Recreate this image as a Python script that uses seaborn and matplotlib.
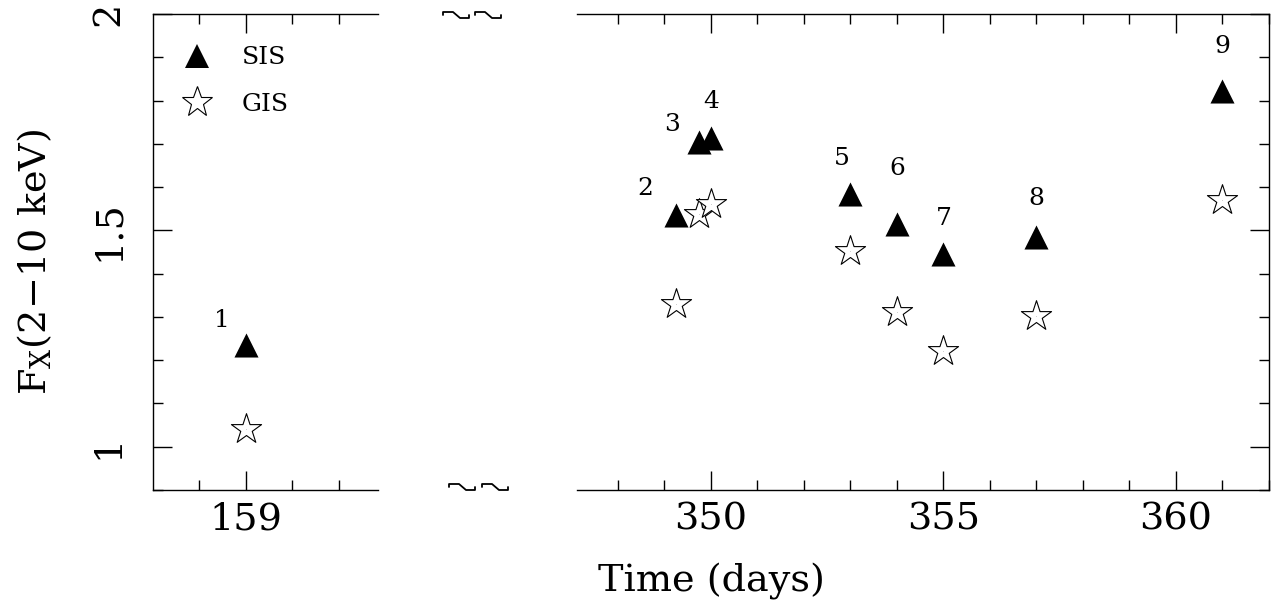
import matplotlib
matplotlib.use("Agg")
import matplotlib.pyplot as plt
import pandas as pd
import seaborn as sns
from matplotlib.lines import Line2D

# ---------------------------------------------------------------------------
# Data (flux in 2-10 keV band, two instruments)
# ---------------------------------------------------------------------------
obs_id = ["1", "2", "3", "4", "5", "6", "7", "8", "9"]
obs_time = [159.0, 349.25, 349.74, 350.0, 353.0, 354.0, 355.0, 357.0, 361.0]
sis_flux = [1.235, 1.535, 1.705, 1.714, 1.585, 1.514, 1.445, 1.484, 1.823]
gis_flux = [1.041, 1.329, 1.537, 1.560, 1.452, 1.311, 1.221, 1.302, 1.571]

# label offsets (points) of the observation numbers relative to the SIS marker
label_dx = [-17, -22, -19, 0, -6, 0, 0, 0, 0]
label_dy = [18, 19, 12, 26, 25, 40, 26, 28, 32]

df = pd.DataFrame({
    "obs": obs_id, "time": obs_time, "sis": sis_flux, "gis": gis_flux,
    "dx": label_dx, "dy": label_dy,
})

FONT = "DejaVu Serif"
BIG = 27.5
SMALL = 18

sns.set_style("ticks")
plt.rcParams["font.family"] = [FONT, "DejaVu Sans"]
plt.rcParams["mathtext.fontset"] = "custom"
plt.rcParams["mathtext.rm"] = FONT
plt.rcParams["mathtext.it"] = FONT
plt.rcParams["axes.linewidth"] = 1.0
for key in ("text.color", "axes.labelcolor", "axes.edgecolor",
            "xtick.color", "ytick.color"):
    plt.rcParams[key] = "black"

fig = plt.figure(figsize=(12.8, 6.07), dpi=100)
W, H = 1280, 607
bottom = (H - 490) / H
height = 476 / H
ax_l = fig.add_axes([153 / W, bottom, 225 / W, height])
ax_r = fig.add_axes([577 / W, bottom, 692 / W, height])


def draw_panel(ax, sub):
    sns.scatterplot(data=sub, x="time", y="sis", marker="^", s=300,
                    color="black", linewidth=0, ax=ax, zorder=3)
    sns.scatterplot(data=sub, x="time", y="gis", marker="*", s=520,
                    facecolor="white", edgecolor="black", linewidth=0.8,
                    ax=ax, zorder=3)
    sns.scatterplot(data=sub, x="time", y="gis", marker=".", s=2,
                    color="black", linewidth=0, ax=ax, zorder=4)
    for _, row in sub.iterrows():
        ax.annotate(row["obs"], (row["time"], row["sis"]),
                    xytext=(row["dx"], row["dy"]), textcoords="offset points",
                    ha="center", va="center", fontsize=SMALL)
    ax.set_ylim(0.9, 2.0)
    ax.set_xlabel("")
    ax.set_ylabel("")
    ax.tick_params(which="both", direction="in", top=True, width=1.0,
                   labelsize=BIG)
    ax.tick_params(which="major", length=14)
    ax.tick_params(which="minor", length=7.5)
    ax.tick_params(axis="x", pad=8)
    ax.set_yticks([1.0, 1.5, 2.0])
    ax.set_yticks([0.9 + 0.1 * i for i in range(12)], minor=True)


left = df[df["time"] < 200]
right = df[df["time"] >= 200]

draw_panel(ax_l, left)
ax_l.set_xlim(157.0, 161.84)
ax_l.set_xticks([159])
ax_l.set_xticks([158, 160, 161], minor=True)
ax_l.set_xticklabels(["159"])
ax_l.spines["right"].set_visible(False)
ax_l.tick_params(axis="y", which="both", right=False, pad=19)
ax_l.set_yticklabels(["1", "1.5", "2"], rotation=90, va="center")

draw_panel(ax_r, right)
ax_r.set_xlim(347.12, 362.0)
ax_r.set_xticks([350, 355, 360])
ax_r.set_xticks(range(348, 363), minor=True)
ax_r.spines["left"].set_visible(False)
ax_r.tick_params(axis="y", which="both", left=False, right=True,
                 labelleft=False)

# legend
handles = [
    Line2D([], [], marker="^", linestyle="none", color="black",
           markersize=17.3, markeredgewidth=0),
    Line2D([], [], marker="*", linestyle="none", markerfacecolor="white",
           markeredgecolor="black", markersize=22.8, markeredgewidth=0.8),
]
ax_l.legend(handles, ["SIS", "GIS"], loc="upper left",
            bbox_to_anchor=(0.129, 0.932), frameon=False, fontsize=SMALL,
            handlelength=1.2, handletextpad=1.2, borderpad=0,
            borderaxespad=0, labelspacing=0.95)

# axis break marks: small step-shaped squiggles drawn in pixel units
squiggle_x = [0, 0, 10, 17, 26, 26]
squiggle_y = [3, 0, 0, 6, 6, 3]
for x0, y0 in [(443, 12), (475, 12), (449, 484), (482, 484)]:
    fig.add_artist(Line2D([(x0 + sx) / W for sx in squiggle_x],
                          [1 - (y0 + sy) / H for sy in squiggle_y],
                          transform=fig.transFigure, color="black", lw=1.3))

fig.text(711 / W, 1 - 582 / H, "Time (days)", fontsize=BIG,
         ha="center", va="center")
fig.text(35 / W, 1 - 262 / H, r"F$_{\rm X}$(2$-$10 keV)", fontsize=BIG,
         rotation=90, ha="center", va="center")

fig.savefig("out.png", dpi=100)
